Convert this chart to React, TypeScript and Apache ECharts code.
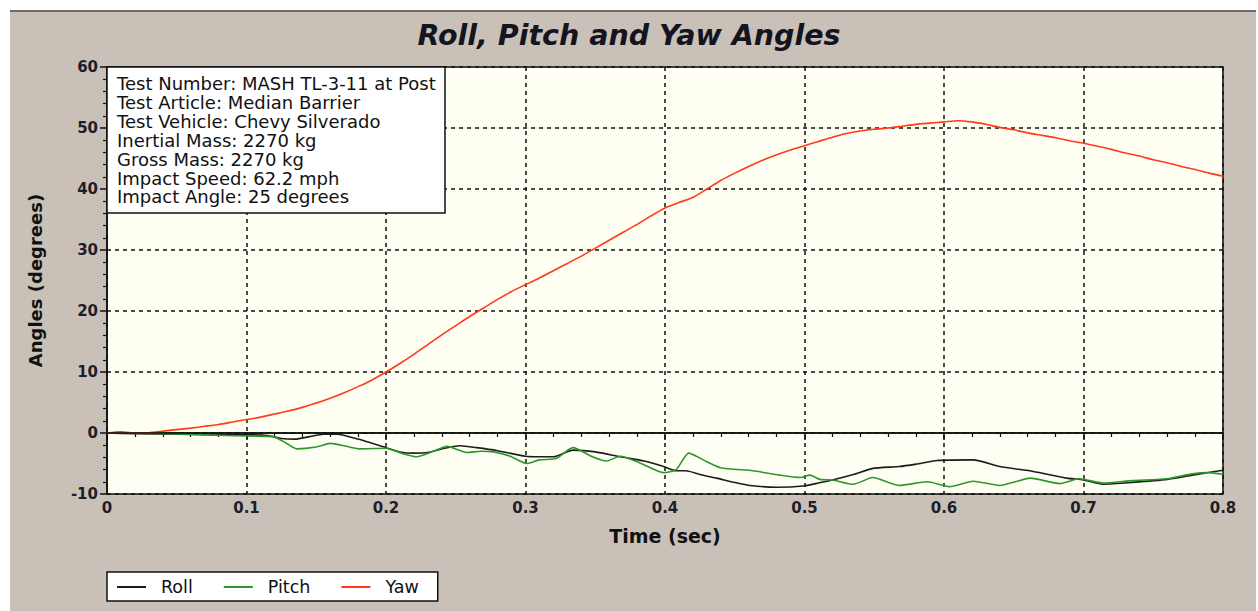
import React, { useEffect, useRef } from "react";
import * as echarts from "echarts";

const titleText = "Roll, Pitch and Yaw Angles";
const xAxisName = "Time (sec)";
const yAxisName = "Angles (degrees)";
const infoLines = [
  "Test Number: MASH TL-3-11 at Post",
  "Test Article: Median Barrier",
  "Test Vehicle: Chevy Silverado",
  "Inertial Mass: 2270 kg",
  "Gross Mass: 2270 kg",
  "Impact Speed: 62.2 mph",
  "Impact Angle: 25 degrees",
];

const rollT = [0, 0.02, 0.05, 0.08, 0.1, 0.115, 0.125, 0.135, 0.145, 0.155, 0.165, 0.18, 0.2, 0.21, 0.22, 0.23, 0.24, 0.253, 0.265, 0.28, 0.3, 0.32, 0.334, 0.35, 0.368, 0.385, 0.399, 0.408, 0.415, 0.425, 0.437, 0.45, 0.461, 0.48, 0.499, 0.51, 0.52, 0.535, 0.549, 0.568, 0.58, 0.595, 0.621, 0.64, 0.664, 0.688, 0.7, 0.714, 0.735, 0.76, 0.778, 0.8];
const rollV = [0, -0.1, -0.2, -0.3, -0.3, -0.4, -0.9, -1.0, -0.6, -0.2, -0.2, -1.0, -2.4, -3.1, -3.3, -3.2, -2.6, -2.1, -2.4, -2.9, -3.8, -3.9, -2.8, -3.1, -3.9, -4.6, -5.5, -6.2, -6.2, -6.8, -7.4, -8.1, -8.6, -8.9, -8.7, -8.2, -7.7, -6.8, -5.8, -5.5, -5.1, -4.5, -4.4, -5.5, -6.3, -7.4, -7.7, -8.4, -8.1, -7.6, -6.9, -6.1];

const pitchT = [0, 0.01, 0.02, 0.04, 0.07, 0.1, 0.119, 0.128, 0.136, 0.15, 0.16, 0.17, 0.181, 0.2, 0.212, 0.222, 0.234, 0.244, 0.258, 0.268, 0.277, 0.289, 0.301, 0.31, 0.322, 0.334, 0.348, 0.358, 0.368, 0.382, 0.399, 0.408, 0.417, 0.43, 0.44, 0.463, 0.482, 0.497, 0.504, 0.511, 0.52, 0.535, 0.549, 0.568, 0.588, 0.604, 0.621, 0.64, 0.662, 0.683, 0.697, 0.714, 0.735, 0.76, 0.778, 0.79, 0.8];
const pitchV = [0, 0.2, 0, -0.1, -0.3, -0.5, -0.6, -1.6, -2.6, -2.3, -1.7, -2.1, -2.6, -2.5, -3.4, -3.9, -3.0, -2.2, -3.2, -3.0, -3.1, -3.8, -5.0, -4.4, -4.2, -2.4, -3.9, -4.6, -3.8, -4.9, -6.5, -6.0, -3.3, -4.7, -5.7, -6.2, -6.9, -7.3, -6.9, -7.6, -7.7, -8.4, -7.3, -8.6, -8.0, -8.8, -7.9, -8.6, -7.4, -8.3, -7.5, -8.2, -7.8, -7.5, -6.7, -6.5, -6.8];

const yawT = [0, 0.01, 0.02, 0.03, 0.04, 0.05, 0.06, 0.07, 0.08, 0.09, 0.1, 0.11, 0.12, 0.13, 0.14, 0.15, 0.16, 0.17, 0.18, 0.19, 0.2, 0.21, 0.22, 0.23, 0.24, 0.25, 0.26, 0.27, 0.28, 0.29, 0.3, 0.31, 0.32, 0.33, 0.34, 0.35, 0.36, 0.37, 0.38, 0.39, 0.4, 0.41, 0.42, 0.43, 0.44, 0.45, 0.46, 0.47, 0.48, 0.49, 0.5, 0.51, 0.52, 0.53, 0.54, 0.55, 0.56, 0.57, 0.58, 0.59, 0.6, 0.61, 0.62, 0.63, 0.64, 0.65, 0.66, 0.67, 0.68, 0.69, 0.7, 0.71, 0.72, 0.73, 0.74, 0.75, 0.76, 0.77, 0.78, 0.79, 0.8];
const yawV = [0, 0, 0, 0.05, 0.3, 0.55, 0.8, 1.1, 1.4, 1.8, 2.2, 2.6, 3.1, 3.6, 4.2, 4.9, 5.7, 6.6, 7.6, 8.7, 10.0, 11.4, 12.9, 14.5, 16.1, 17.6, 19.1, 20.5, 21.9, 23.2, 24.3, 25.4, 26.6, 27.8, 29.0, 30.3, 31.6, 32.9, 34.2, 35.6, 36.9, 37.8, 38.6, 40.0, 41.4, 42.6, 43.7, 44.7, 45.6, 46.4, 47.1, 47.8, 48.5, 49.1, 49.5, 49.8, 50.0, 50.3, 50.6, 50.8, 51.0, 51.2, 51.0, 50.6, 50.1, 49.7, 49.2, 48.8, 48.4, 47.9, 47.5, 47.0, 46.5, 45.9, 45.4, 44.8, 44.3, 43.7, 43.2, 42.6, 42.1];

const xTicks = ["0", "0.1", "0.2", "0.3", "0.4", "0.5", "0.6", "0.7", "0.8"];

const zip = (t: number[], v: number[]) => t.map((x, i) => [x, v[i]]);

export default function App() {
  const ref = useRef<HTMLDivElement>(null);
  useEffect(() => {
    if (!ref.current) return;
    const chart = echarts.init(ref.current, undefined, { renderer: "svg" });
    const font = "'DejaVu Sans', Verdana, sans-serif";
    const labelStyle = { fontFamily: font, fontWeight: "bold" as const, fontSize: 15, color: "#1e1e28" };
    chart.setOption({
      animation: false,
      backgroundColor: "#ffffff",
      title: {
        text: titleText,
        left: "center",
        top: 16,
        textStyle: { fontFamily: font, fontSize: 28.5, fontWeight: "bold", fontStyle: "italic", color: "#14141e" },
      },
      legend: {
        left: 107,
        top: 572,
        orient: "horizontal",
        backgroundColor: "#ffffff",
        borderColor: "#111",
        borderWidth: 1.5,
        borderRadius: 0,
        padding: [6, 19, 5, 10],
        icon: "rect",
        itemWidth: 29,
        itemHeight: 2,
        itemGap: 31,
        textStyle: { fontFamily: font, fontSize: 17.5, color: "#111", padding: [0, 0, 0, 10] },
        data: ["Roll", "Pitch", "Yaw"],
      },
      graphic: [
        { type: "rect", z: -10, shape: { x: 10, y: 10, width: 1246, height: 601 }, style: { fill: "#c9c1b8" } },
        { type: "line", z: -9, shape: { x1: 10, y1: 11, x2: 1256, y2: 11 }, style: { stroke: "#6b6b6b", lineWidth: 2 } },
        { type: "rect", z: 100, shape: { x: 107, y: 67, width: 338, height: 146 }, style: { fill: "#ffffff", stroke: "#111", lineWidth: 1.5 } },
        ...infoLines.map((s, i) => ({
          type: "text",
          z: 101,
          x: 117,
          y: 74.5 + i * 18.9,
          style: { text: s, fontFamily: font, fontSize: 18, fill: "#111" },
        })),
      ],
      grid: {
        left: 107,
        top: 67,
        right: 35,
        bottom: 117,
        show: true,
        backgroundColor: "#fefef2",
        borderColor: "#111",
        borderWidth: 1.5,
      },
      xAxis: {
        type: "value",
        min: 0,
        max: 0.8,
        interval: 0.1,
        name: xAxisName,
        nameLocation: "middle",
        nameGap: 32,
        nameTextStyle: { fontFamily: font, fontWeight: "bold", fontSize: 19, color: "#111" },
        axisLine: { show: true, lineStyle: { color: "#111", width: 1.5 } },
        axisTick: { show: true, length: 7, lineStyle: { color: "#111", width: 1.5 } },
        minorTick: { show: true, splitNumber: 5, length: 4, lineStyle: { color: "#111", width: 1.2 } },
        axisLabel: { ...labelStyle, margin: 6, formatter: (v: number) => xTicks[Math.round(v * 10)] ?? "" },
        splitLine: { show: true, lineStyle: { color: "#111", type: [4, 4], width: 1.5 } },
      },
      yAxis: {
        type: "value",
        min: -10,
        max: 60,
        interval: 10,
        name: yAxisName,
        nameLocation: "middle",
        nameGap: 63,
        nameRotate: 90,
        nameTextStyle: { fontFamily: font, fontWeight: "bold", fontSize: 18, color: "#111" },
        axisLine: { show: true, lineStyle: { color: "#111", width: 1.5 } },
        axisTick: { show: true, length: 7, lineStyle: { color: "#111", width: 1.5 } },
        minorTick: { show: true, splitNumber: 5, length: 4, lineStyle: { color: "#111", width: 1.2 } },
        axisLabel: { ...labelStyle, margin: 9 },
        splitLine: { show: true, lineStyle: { color: "#111", type: [4, 4], width: 1.5 } },
      },
      series: [
        {
          name: "Roll",
          type: "line",
          symbol: "none",
          smooth: 0.2,
          data: zip(rollT, rollV),
          lineStyle: { color: "#1c1c1c", width: 1.6 },
          itemStyle: { color: "#1c1c1c" },
          markLine: {
            silent: true,
            symbol: "none",
            label: { show: false },
            lineStyle: { color: "#111", type: "solid", width: 1.5 },
            data: [{ yAxis: 0 }],
          },
        },
        {
          name: "Pitch",
          type: "line",
          symbol: "none",
          smooth: 0.2,
          data: zip(pitchT, pitchV),
          lineStyle: { color: "#2e962e", width: 1.6 },
          itemStyle: { color: "#2e962e" },
        },
        {
          name: "Yaw",
          type: "line",
          symbol: "none",
          smooth: 0.2,
          data: zip(yawT, yawV),
          lineStyle: { color: "#ff3a1c", width: 1.6 },
          itemStyle: { color: "#ff3a1c" },
        },
      ],
    });
    return () => chart.dispose();
  }, []);
  return <div ref={ref} style={{ position: "fixed", left: 0, top: 0, width: 1258, height: 611 }} />;
}
